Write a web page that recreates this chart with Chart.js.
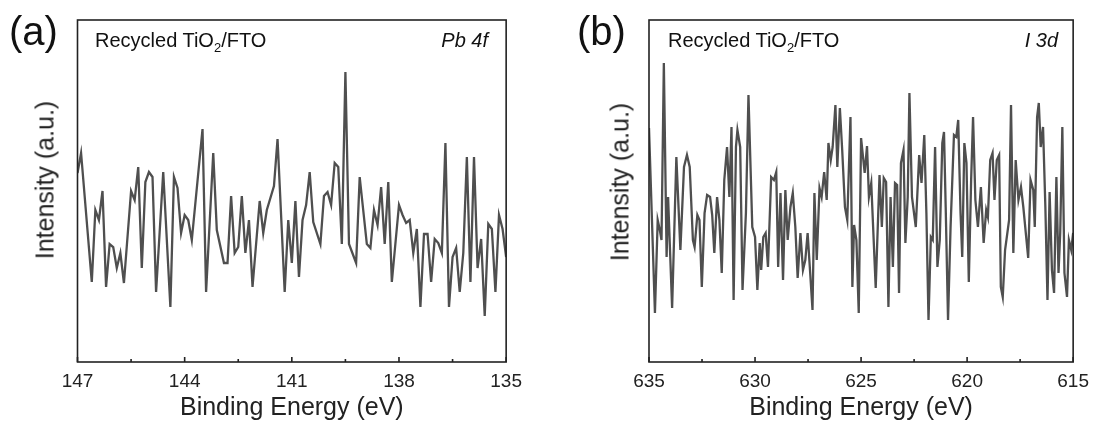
<!DOCTYPE html>
<html>
<head>
<meta charset="utf-8">
<script src="https://cdn.jsdelivr.net/npm/chart.js@4/dist/chart.umd.min.js"></script>
<style>
  body{margin:0;background:#fff;width:1097px;height:423px;overflow:hidden;position:relative;font-family:Arial,"Liberation Sans",sans-serif;}
  canvas{position:absolute;top:0;}
  .tag{position:absolute;font-size:40px;color:#111;line-height:1;}
  .note{position:absolute;font-size:20px;color:#111;line-height:1;white-space:nowrap;}
  .note sub{font-size:13px;vertical-align:-5px;line-height:0;}
  .it{font-style:italic;}
  .ytitle{position:absolute;font-size:25px;color:#222;line-height:1;white-space:nowrap;transform:translate(-50%,-50%) rotate(-90deg);}
</style>
</head>
<body>
<canvas id="pbChart" width="530" height="423" style="left:0"></canvas>
<canvas id="iChart" width="537" height="423" style="left:560px"></canvas>

<div class="tag" style="left:9px;top:11px">(a)</div>
<div class="note" style="left:95px;top:30px">Recycled TiO<sub>2</sub>/FTO</div>
<div class="note it" style="right:609px;top:30px">Pb 4f</div>
<div class="ytitle" style="left:45px;top:180px">Intensity (a.u.)</div>

<div class="tag" style="left:577px;top:11px">(b)</div>
<div class="note" style="left:668px;top:30px">Recycled TiO<sub>2</sub>/FTO</div>
<div class="note it" style="right:39px;top:30px">I 3d</div>
<div class="ytitle" style="left:620px;top:182px">Intensity (a.u.)</div>

<script>
// Pb 4f region, binding energy (eV) vs intensity (a.u.)
const pbEnergy = [147.0,146.9,146.6,146.5,146.4,146.3,146.2,146.1,146.0,145.9,145.8,145.7,145.5,145.4,145.3,145.2,145.1,145.0,144.9,144.8,
  144.6,144.4,144.3,144.2,144.1,144.0,143.9,143.8,143.5,143.4,143.2,143.1,142.9,142.8,142.7,142.6,142.5,142.4,142.3,142.2,
  142.1,141.9,141.8,141.7,141.5,141.4,141.2,141.1,141.0,140.9,140.8,140.7,140.6,140.5,140.4,140.2,140.1,140.0,139.9,139.8,
  139.7,139.6,139.5,139.4,139.2,139.1,138.9,138.8,138.7,138.6,138.5,138.4,138.3,138.2,138.0,137.9,137.8,137.7,137.6,137.5,
  137.4,137.3,137.2,137.1,137.0,136.9,136.8,136.7,136.6,136.5,136.4,136.3,136.2,136.1,136.0,135.9,135.8,135.7,135.6,135.5,
  135.4,135.3,135.2,135.1,135.0];
const pbCounts = [185,205,76,148,138,167,71,114,111,90,105,75,167,158,191,90,176,186,181,66,
  186,51,181,170,125,143,138,118,229,66,205,128,95,95,162,105,111,162,105,138,
  71,157,125,148,172,219,66,138,95,157,81,138,153,186,136,114,162,166,153,195,
  191,114,286,114,95,181,114,110,148,133,171,114,176,76,153,143,135,138,105,129,
  51,124,124,76,119,115,105,215,51,101,110,66,105,201,76,201,90,119,42,134,
  129,66,143,129,101];
const pbTicks = [147,144,141,138,135];
const pbMinor = [145.5,142.5,139.5,136.5];

// I 3d region
const iEnergy = [635.00,634.72,634.59,634.49,634.41,634.30,634.17,634.10,633.91,633.71,633.52,633.35,633.21,633.08,632.93,632.85,632.72,632.62,632.51,632.38,
  632.26,632.12,632.02,631.92,631.79,631.68,631.57,631.45,631.32,631.21,631.11,631.01,630.90,630.83,630.70,630.59,630.43,630.31,630.13,630.00,
  629.89,629.78,629.71,629.61,629.50,629.39,629.24,629.11,629.00,628.91,628.80,628.68,628.57,628.46,628.33,628.22,628.10,627.99,627.86,627.74,
  627.63,627.52,627.40,627.29,627.20,627.09,626.96,626.86,626.74,626.62,626.54,626.43,626.34,626.21,626.12,626.00,625.89,625.76,625.65,625.50,
  625.41,625.33,625.22,625.11,625.00,624.83,624.72,624.63,624.52,624.31,624.13,624.02,623.93,623.82,623.71,623.61,623.50,623.40,623.30,623.21,
  623.12,623.00,622.91,622.80,622.72,622.60,622.42,622.26,622.15,622.02,621.92,621.82,621.71,621.62,621.51,621.40,621.29,621.17,621.09,621.01,
  620.90,620.78,620.62,620.51,620.42,620.31,620.23,620.13,620.03,619.92,619.81,619.72,619.61,619.49,619.35,619.22,619.10,619.02,618.91,618.80,
  618.71,618.60,618.49,618.41,618.32,618.21,618.02,617.93,617.82,617.71,617.58,617.46,617.35,617.12,617.01,616.88,616.81,616.70,616.62,616.53,
  616.42,616.31,616.21,616.11,616.00,615.90,615.79,615.69,615.61,615.51,615.41,615.29,615.20,615.09,615.00];
const iCounts = [230,45,138,128,118,295,101,161,50,201,108,191,203,191,118,111,143,138,71,145,
  163,161,143,105,161,138,85,178,211,161,231,58,211,228,211,68,145,263,131,121,
  68,115,88,121,125,91,181,178,186,91,165,78,168,118,151,165,131,80,125,88,
  98,125,85,48,165,98,170,161,186,158,215,198,211,253,191,250,208,151,138,241,
  71,133,118,45,220,185,212,161,175,70,183,131,180,176,51,161,91,175,173,65,
  195,208,115,161,265,161,131,203,175,223,145,38,121,118,211,91,118,215,226,151,
  38,131,223,221,238,145,101,215,195,76,178,241,158,131,171,115,148,141,198,205,
  158,198,203,71,61,108,138,253,105,198,158,171,151,100,178,168,131,241,255,211,
  231,151,58,166,88,65,181,85,125,231,85,61,118,108,125];
const iTicks = [635,630,625,620,615];
const iMinor = [632.5,627.5,622.5,617.5];

const FONT = 'Arial, "Liberation Sans", sans-serif';
const INK = '#222';

// closed frame plus inward ticks on the bottom axis
const frameTicks = {
  id:'frameTicks',
  afterDraw(chart, args, opts){
    const {ctx, chartArea:a, scales:{x}} = chart;
    ctx.save();
    ctx.strokeStyle = INK;
    ctx.lineWidth = 1.6;
    ctx.strokeRect(a.left, a.top, a.right-a.left, a.bottom-a.top);
    ctx.beginPath();
    opts.major.forEach(v=>{ const p=x.getPixelForValue(v); ctx.moveTo(p,a.bottom); ctx.lineTo(p,a.bottom-5); });
    opts.minor.forEach(v=>{ const p=x.getPixelForValue(v); ctx.moveTo(p,a.bottom); ctx.lineTo(p,a.bottom-3); });
    ctx.stroke();
    ctx.restore();
  }
};

function xpsChart(id, energy, counts, ticks, minor, box){
  return new Chart(document.getElementById(id), {
    type:'line',
    data:{datasets:[{
      data: energy.map((e,i)=>({x:e, y:counts[i]})),
      borderColor:'#4f4f4f', borderWidth:2.3, pointRadius:0, tension:0, fill:false
    }]},
    options:{
      responsive:false, animation:false, devicePixelRatio:1,
      layout:{padding:{top:20, right:box.right, left:0, bottom:0}},
      plugins:{legend:{display:false}, tooltip:{enabled:false}, frameTicks:{major:ticks, minor:minor}},
      scales:{
        x:{
          type:'linear', min:Math.min(...ticks), max:Math.max(...ticks), reverse:true,
          afterBuildTicks: s => { s.ticks = ticks.map(v=>({value:v})); },
          afterFit: s => { s.height = 61; },
          grid:{display:false, drawTicks:false}, border:{display:false},
          ticks:{color:INK, padding:8, font:{family:FONT, size:19}, maxRotation:0},
          title:{display:true, text:'Binding Energy (eV)', color:INK, font:{family:FONT, size:25}, padding:{top:6, bottom:0}}
        },
        y:{
          min:-4, max:338,
          afterFit: s => { s.width = box.left; },
          grid:{display:false, drawTicks:false}, border:{display:false},
          ticks:{display:false},
          title:{display:false}
        }
      }
    },
    plugins:[frameTicks]
  });
}

xpsChart('pbChart', pbEnergy, pbCounts, pbTicks, pbMinor, {left:77.5, right:23});
xpsChart('iChart', iEnergy, iCounts, iTicks, iMinor, {left:89, right:20});
</script>
</body>
</html>
